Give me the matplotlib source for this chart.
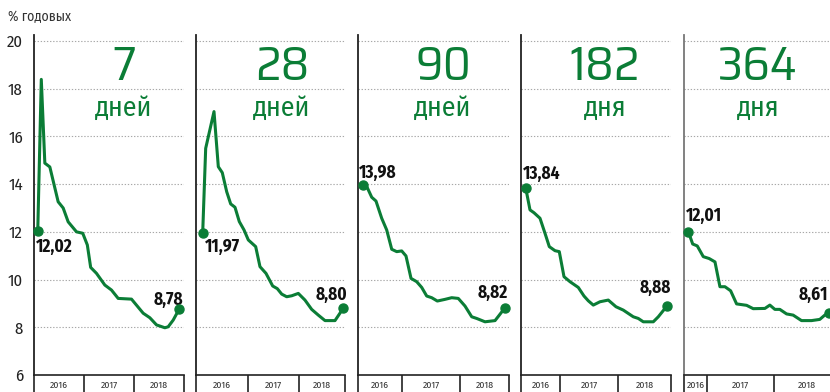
import matplotlib
matplotlib.use("Agg")
from matplotlib import pyplot as plt

GREEN = '#0b7d36'
NARROW = ['Fira Sans Condensed', 'DejaVu Sans']
SQUARE = ['Saira SemiCondensed', 'Fira Sans', 'DejaVu Sans']

# maturity headers
terms = ['7', '28', '90', '182', '364']
units = ['дней', 'дней', 'дней', 'дня', 'дня']
years = ['2016', '2017', '2018']

# months from the left edge of each panel
x7 = [0.9, 1.75, 2.6, 3.8, 5.8, 7.0, 8.2, 10.2, 11.7, 12.8, 13.6, 15.0, 17.0, 18.6,
      20.2, 23.4, 26.2, 27.8, 29.4, 31.4, 32.2, 33.4, 34.9]
y7 = [12.02, 18.39, 14.88, 14.72, 13.26, 13.0, 12.42, 12.0, 11.94, 11.45, 10.51, 10.26,
      9.77, 9.56, 9.21, 9.18, 8.59, 8.4, 8.1, 7.98, 8.02, 8.3, 8.78]

x28 = [1.62, 2.34, 4.35, 5.39, 6.35, 7.42, 8.38, 9.42, 10.46, 11.6, 12.64, 14.42, 15.46,
       16.91, 18.53, 19.64, 20.71, 21.91, 23.12, 24.72, 26.33, 27.95, 29.55, 31.17,
       33.58, 35.59]
y28 = [11.97, 15.50, 17.04, 14.73, 14.48, 13.68, 13.17, 13.03, 12.43, 12.08, 11.66, 11.38,
       10.54, 10.26, 9.73, 9.62, 9.39, 9.28, 9.32, 9.42, 9.14, 8.75, 8.51, 8.28, 8.28, 8.80]

x90 = [1.26, 2.22, 3.27, 4.29, 5.65, 6.84, 8.04, 9.23, 10.42, 11.44, 12.64, 14.0, 15.19,
       16.38, 17.57, 18.91, 20.74, 22.34, 23.91, 25.51, 27.11, 28.3, 30.28, 32.67, 33.69,
       35.05]
y90 = [13.98, 13.85, 13.45, 13.29, 12.57, 12.08, 11.27, 11.17, 11.2, 10.99, 10.05, 9.91,
       9.67, 9.31, 9.24, 9.10, 9.17, 9.24, 9.21, 8.89, 8.44, 8.37, 8.23, 8.28, 8.51, 8.82]

x182 = [1.13, 2.16, 3.12, 4.56, 5.76, 6.79, 8.16, 9.19, 10.32, 11.76, 13.75, 15.12, 16.15,
        17.35, 18.96, 20.95, 22.8, 24.55, 26.95, 28.15, 29.35, 31.75, 32.95, 34.97]
y182 = [13.84, 12.92, 12.80, 12.57, 11.94, 11.38, 11.21, 11.17, 10.12, 9.91, 9.67, 9.31,
        9.11, 8.93, 9.07, 9.14, 8.86, 8.72, 8.44, 8.37, 8.23, 8.23, 8.44, 8.88]

x364 = [0.77, 1.56, 2.38, 3.46, 4.53, 5.56, 6.45, 7.35, 8.37, 9.44, 11.24, 12.42, 14.52,
        15.41, 16.31, 17.2, 18.41, 19.59, 21.09, 22.89, 24.37, 25.27, 26.04]
y364 = [12.01, 11.49, 11.41, 10.96, 10.88, 10.74, 9.70, 9.70, 9.53, 8.98, 8.92, 8.78, 8.79,
        8.93, 8.75, 8.75, 8.56, 8.51, 8.28, 8.28, 8.33, 8.51, 8.61]

series = [(x7, y7), (x28, y28), (x90, y90), (x182, y182), (x364, y364)]

# panel layout in pixels: left edge, right edge, x span (months), year boundaries
W, H = 830, 392
panels = [
    (34, 184, 36, [12, 24]),
    (196, 345, 36, [12.6, 24.9]),
    (358, 509, 36, [10.5, 24.3]),
    (521, 671, 36, [9.4, 23.3]),
    (684, 840, 28, [4.1, 16.1]),
]
header_x = [124, 282, 443, 605, 758]
label_offsets = [
    ((-2, -16), 'left', (4, 9), 'right'),
    ((2, -14), 'left', (4, 13), 'right'),
    ((-4, 12), 'left', (3, 15), 'right'),
    ((-3, 14), 'left', (4, 18), 'right'),
    ((-2, 16), 'left', (-1, 18), 'right'),
]

fig = plt.figure(figsize=(W / 100, H / 100), dpi=100)
bottom_px, top_px = 375, 35

for i, (left, right, span, seps) in enumerate(panels):
    ax = fig.add_axes([left / W, (H - bottom_px) / H, (right - left) / W,
                       (bottom_px - top_px) / H])
    ax.set_xlim(0, span)
    ax.set_ylim(6, 20.25)
    for s in ['top', 'right']:
        ax.spines[s].set_visible(False)
    spine_col = '#777777' if i == 4 else '#222222'
    ax.spines['left'].set_color(spine_col)
    ax.spines['left'].set_linewidth(1.3)
    ax.spines['bottom'].set_color('#222222')
    ax.spines['bottom'].set_linewidth(1.2)

    for g in range(8, 21, 2):
        ax.axhline(g, color='#a8a8a8', lw=0.8, ls=(0, (1.2, 1.6)), zorder=0)

    # year separators below the axis
    bounds = [0] + seps + [span]
    ax.set_xticks(bounds)
    ax.tick_params(axis='x', which='major', direction='out', length=13, width=1.2,
                   color='#222222', labelbottom=False)
    for k, yr in enumerate(years):
        ax.text((bounds[k] + bounds[k + 1]) / 2, -0.017, yr,
                transform=ax.get_xaxis_transform(), ha='center', va='top',
                fontsize=7, color='#333333', family=NARROW)

    ax.set_yticks(range(6, 21, 2))
    if i == 0:
        ax.tick_params(axis='y', length=0, pad=8, labelsize=12, labelcolor='#222222')
        for t in ax.get_yticklabels():
            t.set_family(NARROW)
    else:
        ax.tick_params(axis='y', length=0, labelleft=False)

    xs, ys = series[i]
    ax.plot(xs, ys, color=GREEN, lw=2.2, solid_joinstyle='round', zorder=3)
    ax.plot([xs[0], xs[-1]], [ys[0], ys[-1]], 'o', color=GREEN, ms=6.5, zorder=4,
            clip_on=False)

    so, sha, eo, eha = label_offsets[i]
    ax.annotate(f'{ys[0]:.2f}'.replace('.', ','), (xs[0], ys[0]), xytext=so,
                textcoords='offset pixels', ha=sha, va='center', fontsize=12.5,
                fontweight='bold', family=NARROW, color='#111111', annotation_clip=False)
    ax.annotate(f'{ys[-1]:.2f}'.replace('.', ','), (xs[-1], ys[-1]), xytext=eo,
                textcoords='offset pixels', ha=eha, va='center', fontsize=12.5,
                fontweight='bold', family=NARROW, color='#111111', annotation_clip=False)

    # header: term and unit
    cx = (header_x[i] - left) / (right - left)
    ax.text(cx, (bottom_px - 67) / (bottom_px - top_px), terms[i], transform=ax.transAxes,
            ha='center', va='center', fontsize=35, fontweight='normal', color=GREEN,
            family=SQUARE)
    ax.text(cx, (bottom_px - 108) / (bottom_px - top_px), units[i], transform=ax.transAxes,
            ha='center', va='center', fontsize=20, fontweight='normal', color=GREEN,
            family=NARROW)

fig.text(8 / W, 1 - 17 / H, '% годовых', ha='left', va='center', fontsize=10,
         color='#333333', family=NARROW)

fig.savefig('out.png', dpi=100)
